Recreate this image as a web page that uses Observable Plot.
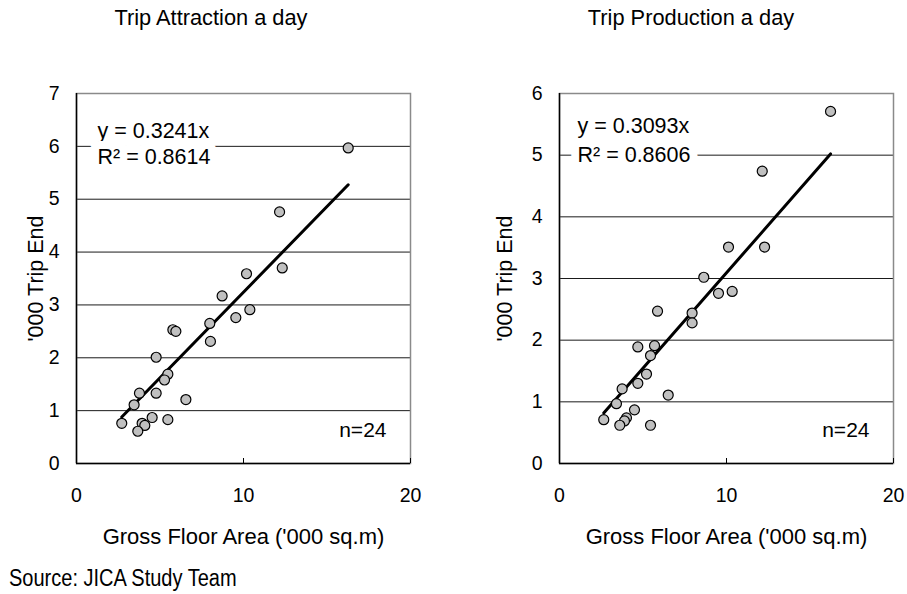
<!DOCTYPE html>
<html>
<head>
<meta charset="utf-8">
<script src="https://cdn.jsdelivr.net/npm/d3@7"></script>
<script src="https://cdn.jsdelivr.net/npm/@observablehq/plot@0.6"></script>
<style>
  html, body { margin: 0; padding: 0; background: #fff; }
  #wrap { position: relative; width: 907px; height: 594px; overflow: hidden; font-family: "Liberation Sans", Arial, sans-serif; color: #000; }
  .abs { position: absolute; white-space: nowrap; }
  .title { font-size: 21.8px; transform: translate(-50%, -50%); }
  .source { font-family: "Liberation Sans", Arial, sans-serif; font-size: 23px; transform-origin: 0 50%; transform: translateY(-50%) scaleX(0.87); }
</style>
</head>
<body>
<div id="wrap"></div>
<script>
// ---- data ----
const titles = ["Trip Attraction a day", "Trip Production a day"];
const xLabel = "Gross Floor Area ('000 sq.m)";
const yLabel = "'000 Trip End";
const sourceText = "Source: JICA Study Team";
const xTicks = [0, 10, 20];
const attrTicks = [0, 1, 2, 3, 4, 5, 6, 7];
const prodTicks = [0, 1, 2, 3, 4, 5, 6];

const attrX = [16.27, 12.16, 12.32, 10.18, 10.38, 8.72, 9.54, 7.98, 8.02, 5.77, 5.95, 4.77, 5.47, 5.27, 3.77, 4.77, 3.45, 6.55, 4.53, 5.47, 2.71, 3.93, 4.09, 3.67];
const attrY = [5.97, 4.76, 3.70, 3.59, 2.91, 3.17, 2.76, 2.65, 2.31, 2.53, 2.50, 2.01, 1.69, 1.58, 1.33, 1.33, 1.11, 1.21, 0.87, 0.83, 0.76, 0.76, 0.72, 0.61];
const attrSlope = 0.3241;
const attrEq = ["y = 0.3241x", "R\u00B2 = 0.8614"];

const prodX = [16.23, 12.14, 12.28, 10.12, 10.34, 8.64, 9.52, 7.94, 7.94, 5.87, 5.69, 4.69, 5.45, 5.21, 4.69, 3.75, 6.51, 3.41, 4.49, 2.65, 4.01, 3.89, 3.61, 5.45];
const prodY = [5.71, 4.74, 3.51, 3.51, 2.79, 3.02, 2.76, 2.44, 2.28, 2.47, 1.91, 1.89, 1.75, 1.45, 1.30, 1.21, 1.11, 0.97, 0.87, 0.71, 0.74, 0.69, 0.62, 0.62];
const prodSlope = 0.3093;
const prodEq = ["y = 0.3093x", "R\u00B2 = 0.8606"];

const nLabel = "n=24";

// ---- chart builder ----
function makeChart(cfg) {
  const pts = cfg.xs.map((x, i) => ({x, y: cfg.ys[i]}));
  const xr = d3.extent(cfg.xs);
  const fit = xr.map(x => ({x, y: cfg.slope * x}));
  const yMax = d3.max(cfg.yTicks);
  return Plot.plot({
    width: cfg.width,
    height: 520,
    marginTop: 53,
    marginBottom: 97,
    marginLeft: cfg.marginLeft,
    marginRight: cfg.marginRight,
    style: { fontFamily: '"Liberation Sans", Arial, sans-serif', fontSize: "19px", color: "#000", background: "transparent", overflow: "visible" },
    x: { domain: [0, 20] },
    y: { domain: [0, yMax] },
    marks: [
      Plot.gridY(cfg.yTicks, { stroke: "#1a1a1a", strokeOpacity: 1, strokeWidth: 1 }),
      Plot.frame({ stroke: "#8a8a8a", strokeWidth: 1.5 }),
      Plot.ruleX([0], { stroke: "#000", strokeWidth: 1.5 }),
      Plot.ruleY([0], { stroke: "#000", strokeWidth: 1.5 }),
      Plot.axisX({ ticks: xTicks, tickSize: -5, tickPadding: 30, tickFormat: d3.format("d"), label: null, fontSize: 19.5 }),
      Plot.axisY({ ticks: cfg.yTicks, tickSize: 0, tickPadding: 17, tickFormat: d3.format("d"), label: null, fontSize: 19.5 }),
      Plot.line(fit, { x: "x", y: "y", stroke: "#000", strokeWidth: 3 }),
      Plot.dot(pts, { x: "x", y: "y", r: 5, fill: "#c0c0c0", stroke: "#000", strokeWidth: 1.2 }),
      Plot.text([cfg.eq[0]], { text: d => d, frameAnchor: "top-left", textAnchor: "start", lineAnchor: "middle", dx: cfg.eqDx, dy: cfg.eqDy1, fontSize: 21.5, fill: "#000", stroke: "#fff", strokeWidth: 16 }),
      Plot.text([cfg.eq[1]], { text: d => d, frameAnchor: "top-left", textAnchor: "start", lineAnchor: "middle", dx: cfg.eqDx, dy: cfg.eqDy2, fontSize: 21.5, fill: "#000", stroke: "#fff", strokeWidth: 16 }),
      Plot.text([nLabel], { text: d => d, frameAnchor: "bottom-right", textAnchor: "end", lineAnchor: "middle", dx: -24, dy: -33, fontSize: 21, fill: "#000" }),
      Plot.text([xLabel], { text: d => d, frameAnchor: "bottom", textAnchor: "middle", lineAnchor: "middle", dy: 73, fontSize: 22, fill: "#000" }),
      Plot.text([yLabel], { text: d => d, frameAnchor: "left", textAnchor: "middle", lineAnchor: "middle", rotate: -90, dx: cfg.yLabelDx, fontSize: 21.5, fill: "#000" })
    ]
  });
}

const wrap = document.getElementById("wrap");

const left = makeChart({ xs: attrX, ys: attrY, slope: attrSlope, eq: attrEq, yTicks: attrTicks, width: 453, marginLeft: 76, marginRight: 43, eqDx: 21, eqDy1: 38, eqDy2: 64, yLabelDx: -40 });
left.style.position = "absolute"; left.style.left = "0px"; left.style.top = "40px";
wrap.appendChild(left);

const right = makeChart({ xs: prodX, ys: prodY, slope: prodSlope, eq: prodEq, yTicks: prodTicks, width: 454, marginLeft: 106, marginRight: 14, eqDx: 18, eqDy1: 33, eqDy2: 62, yLabelDx: -54 });
right.style.position = "absolute"; right.style.left = "453px"; right.style.top = "40px";
wrap.appendChild(right);

const t1 = document.createElement("div");
t1.className = "abs title"; t1.style.left = "211px"; t1.style.top = "18px"; t1.textContent = titles[0];
wrap.appendChild(t1);
const t2 = document.createElement("div");
t2.className = "abs title"; t2.style.left = "691px"; t2.style.top = "18px"; t2.textContent = titles[1];
wrap.appendChild(t2);
const src = document.createElement("div");
src.className = "abs source"; src.style.left = "9px"; src.style.top = "578px"; src.textContent = sourceText;
wrap.appendChild(src);
</script>
</body>
</html>
